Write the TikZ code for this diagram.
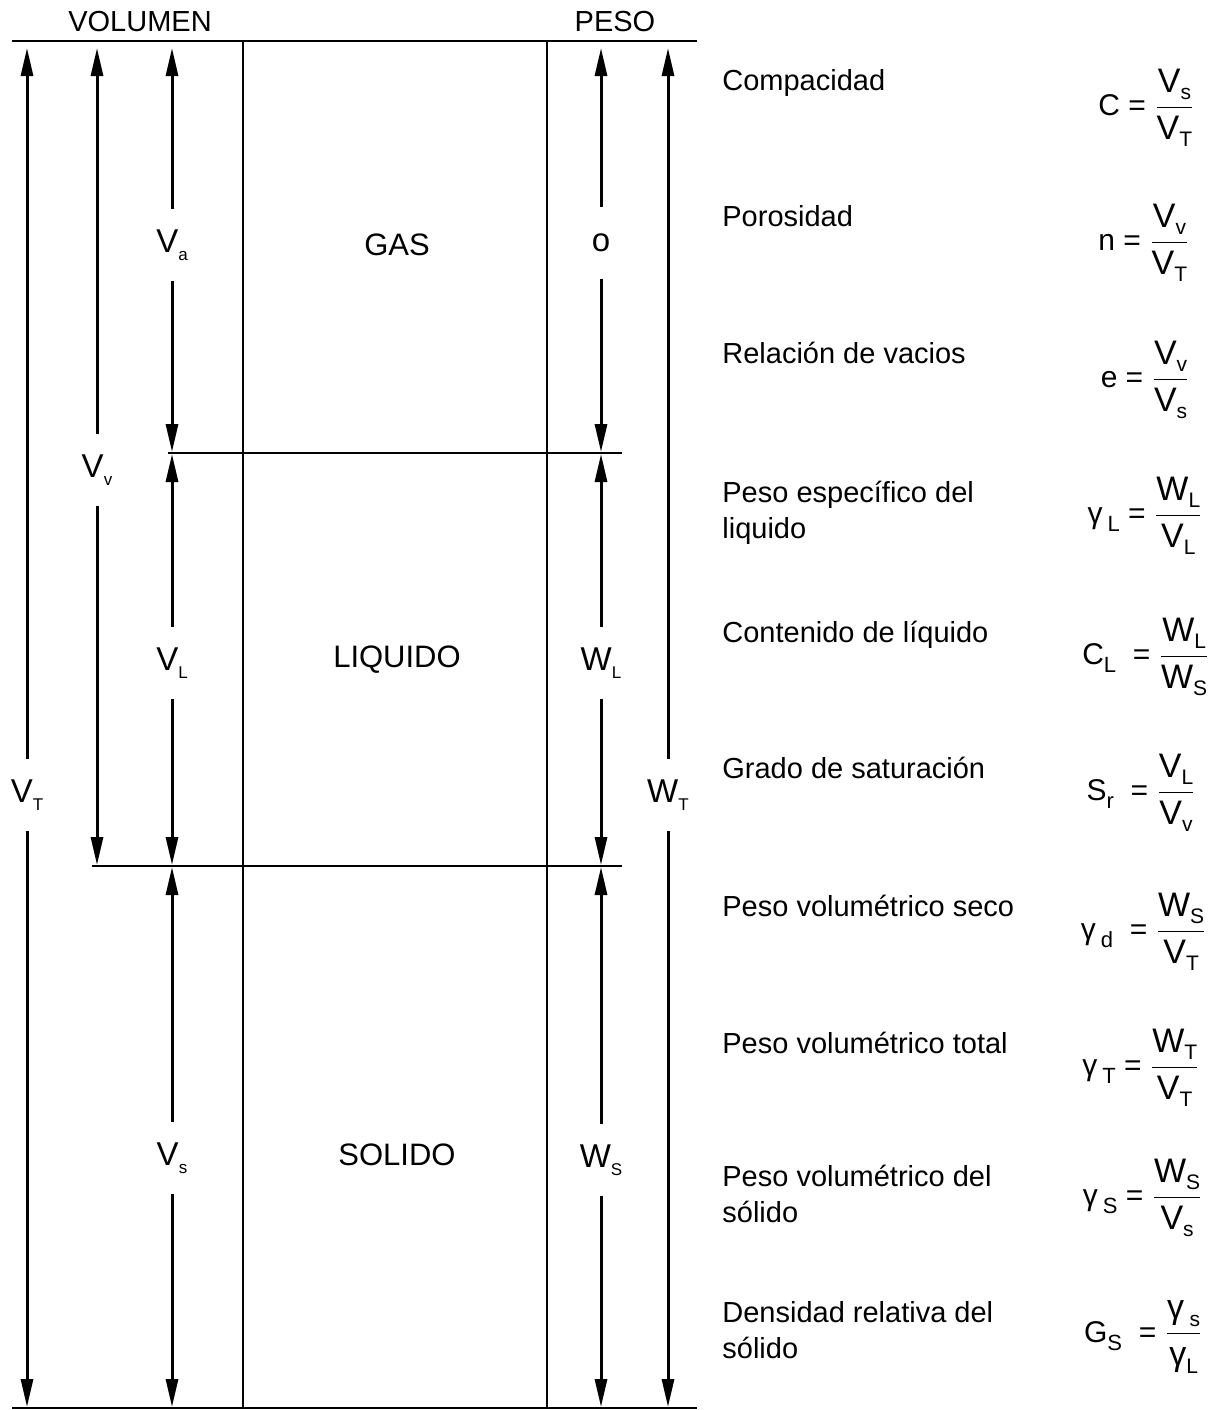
\documentclass[tikz,border=0pt]{standalone}
\usepackage{amsmath}
\usepackage{fontspec}
\setmainfont{Liberation Sans}
\usepackage{tikz}
\usetikzlibrary{arrows.meta,positioning}
\newcommand{\subind}[1]{\raisebox{-0.45ex}{\fontsize{8.5}{9}\selectfont #1}}
\newcommand{\subfr}[1]{\raisebox{-0.4ex}{\fontsize{10.5}{11}\selectfont #1}}
\newcommand{\subgam}[1]{\raisebox{-0.5ex}{\fontsize{11}{12}\selectfont #1}}
\newcommand{\razon}[2]{{\fontsize{17}{20}\selectfont$\dfrac{\mbox{#1}}{\mbox{#2}}$}}
\tikzset{
  borde/.style={line width=1.3pt},
  caja/.style={line width=0.8pt},
  cotarr/.style={-{Triangle[length=14pt,width=6pt]},line width=1.5pt,shorten >=0.5pt},
  cota/.style={font=\fontsize{16.5}{19}\selectfont,minimum height=36pt,inner sep=0pt},
  titulo/.style={font=\fontsize{14.5}{18}\selectfont,inner sep=1pt},
  fase/.style={font=\fontsize{15.5}{18}\selectfont,inner sep=1pt},
  propiedad/.style={font=\fontsize{14.5}{18}\selectfont,anchor=base west,align=left,inner sep=0pt},
  formula/.style={font=\fontsize{15}{18}\selectfont,anchor=east,inner sep=0pt},
}
\begin{document}
\begin{tikzpicture}[x=0.5pt,y=-0.5pt]
  \useasboundingbox (0,0) rectangle (1214,1410);
  % niveles de las fases
  \coordinate (sup) at (0,47);
  \coordinate (med1) at (0,453);
  \coordinate (med2) at (0,866);
  \coordinate (inf) at (0,1408);
  % esquema de fases
  \draw[borde] (12,41) -- (697,41);
  \draw[borde] (12,1408) -- (697,1408);
  \draw[borde] (168,453) -- (622,453);
  \draw[borde] (92,866) -- (622,866);
  \draw[caja] (243,41) -- (243,1408);
  \draw[caja] (547,41) -- (547,1408);
  \node[titulo] (vol) at (140,22) {VOLUMEN};
  \node[titulo] (peso) at (615,22) {PESO};
  \node[fase] (gas) at (397,245) {GAS};
  \node[fase] (liq) at (397,660) {LIQUIDO};
  \node[fase] (sol) at (397,1155) {SOLIDO};
  % cotas de volumen
  \node[cota] (VT) at (27,795) {V\subind{T}};
  \node[cota] (Vv) at (97,470) {V\subind{v}};
  \node[cota] (Va) at (172,245) {V\subind{a}};
  \node[cota] (VL) at (172,663) {V\subind{L}};
  \node[cota] (Vs) at (172,1158) {V\subind{s}};
  \draw[cotarr] (VT) -- (VT |- sup);
  \draw[cotarr] (VT) -- (VT |- inf);
  \draw[cotarr] (Vv) -- (Vv |- sup);
  \draw[cotarr] (Vv) -- (Vv |- med2);
  \draw[cotarr] (Va) -- (Va |- sup);
  \draw[cotarr] (Va) -- (Va |- med1);
  \draw[cotarr] (VL) -- (VL |- med1);
  \draw[cotarr] (VL) -- (VL |- med2);
  \draw[cotarr] (Vs) -- (Vs |- med2);
  \draw[cotarr] (Vs) -- (Vs |- inf);
  % cotas de peso
  \node[cota] (Wa) at (601,243) {o};
  \node[cota] (WL) at (601,663) {W\subind{L}};
  \node[cota] (WS) at (601,1160) {W\subind{S}};
  \node[cota] (WT) at (668,795) {W\subind{T}};
  \draw[cotarr] (Wa) -- (Wa |- sup);
  \draw[cotarr] (Wa) -- (Wa |- med1);
  \draw[cotarr] (WL) -- (WL |- med1);
  \draw[cotarr] (WL) -- (WL |- med2);
  \draw[cotarr] (WS) -- (WS |- med2);
  \draw[cotarr] (WS) -- (WS |- inf);
  \draw[cotarr] (WT) -- (WT |- sup);
  \draw[cotarr] (WT) -- (WT |- inf);
  % relaciones
  \node[propiedad] (p1) at (722,90) {Compacidad};
  \node[propiedad] (p2) at (722,226) {Porosidad};
  \node[propiedad] (p3) at (722,363) {Relación de vacios};
  \node[propiedad] (p4) at (722,538) {Peso específico del\\liquido};
  \node[propiedad] (p5) at (722,642) {Contenido de líquido};
  \node[propiedad] (p6) at (722,778) {Grado de saturación};
  \node[propiedad] (p7) at (722,916) {Peso volumétrico seco};
  \node[propiedad] (p8) at (722,1053) {Peso volumétrico total};
  \node[propiedad] (p9) at (722,1222) {Peso volumétrico del\\sólido};
  \node[propiedad] (p10) at (722,1358) {Densidad relativa del\\sólido};
  \node[formula] (f1) at (1195,108) {C = \razon{V\subfr{s}}{V\subfr{T}}};
  \node[formula] (f2) at (1190,243) {n = \razon{V\subfr{v}}{V\subfr{T}}};
  \node[formula] (f3) at (1190,380) {e = \razon{V\subfr{v}}{V\subfr{s}}};
  \node[formula] (f4) at (1203,516) {γ\,\subgam{L} = \razon{W\subfr{L}}{V\subfr{L}}};
  \node[formula] (f5) at (1210,657) {C\subgam{L} \ = \razon{W\subfr{L}}{W\subfr{S}}};
  \node[formula] (f6) at (1196,793) {S\subgam{r} \ = \razon{V\subfr{L}}{V\subfr{v}}};
  \node[formula] (f7) at (1207,932) {γ\,\subgam{d} \ = \razon{W\subfr{S}}{V\subfr{T}}};
  \node[formula] (f8) at (1200,1068) {γ\,\subgam{T} = \razon{W\subfr{T}}{V\subfr{T}}};
  \node[formula] (f9) at (1203,1198) {γ\,\subgam{S} = \razon{W\subfr{S}}{V\subfr{s}}};
  \node[formula] (f10) at (1203,1337) {G\subgam{S} \ = \razon{γ\,\subfr{s}}{γ\subfr{L}}};
\end{tikzpicture}
\end{document}
